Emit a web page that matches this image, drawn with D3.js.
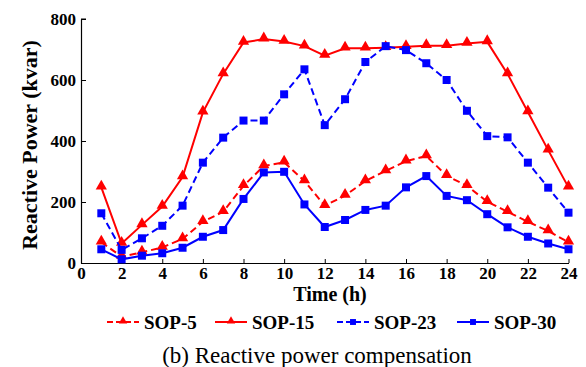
<!DOCTYPE html>
<html>
<head>
<meta charset="utf-8">
<script src="https://cdn.jsdelivr.net/npm/d3@7"></script>
<style>
  body { margin: 0; background: #fff; }
</style>
</head>
<body>
<div id="container"></div>
<script>
// 横轴: 小时
const hours = d3.range(1, 25);
const xTicks = d3.range(0, 25, 2);
const yTicks = [0, 200, 400, 600, 800];

// 各 SOP 的无功补偿 (kvar)
const sop5 = [68, 21, 35, 51, 79, 135, 168, 253, 318, 330, 269, 188, 221, 269, 302, 334, 351, 286, 253, 201, 168, 135, 105, 68];
const sop15 = [248, 64, 125, 185, 282, 494, 620, 723, 734, 726, 711, 680, 704, 704, 706, 709, 712, 712, 720, 725, 620, 495, 370, 248];
const sop23 = [163, 43, 81, 122, 188, 329, 411, 467, 467, 553, 635, 452, 537, 659, 711, 698, 655, 600, 499, 416, 412, 329, 247, 165];
const sop30 = [45, 12, 24, 32, 50, 86, 108, 210, 297, 299, 192, 118, 141, 174, 188, 248, 285, 220, 206, 160, 117, 86, 64, 45];

const seriesNames = ["SOP-5", "SOP-15", "SOP-23", "SOP-30"];

const W = 586, H = 367;
const FONT = "'Liberation Serif', 'Times New Roman', 'DejaVu Serif', serif";
const margin = { left: 81, right: 17.5, top: 19, bottom: 104 };

const series = [
    { name: seriesNames[0], values: sop5, color: "#ff0000", dash: "7,4", marker: "tri" },
    { name: seriesNames[1], values: sop15, color: "#ff0000", dash: null, marker: "tri" },
    { name: seriesNames[2], values: sop23, color: "#0000ff", dash: "7,4", marker: "sq" },
    { name: seriesNames[3], values: sop30, color: "#0000ff", dash: null, marker: "sq" }
];

const svg = d3.select("#container").append("svg")
    .attr("width", W)
    .attr("height", H)
    .attr("font-family", FONT)
    .style("display", "block");

const x = d3.scaleLinear().domain([0, 24]).range([margin.left, W - margin.right]);
const y = d3.scaleLinear().domain([0, 800]).range([H - margin.bottom, margin.top]);

// 坐标轴
const xAxis = svg.append("g")
    .attr("transform", "translate(0," + y(0) + ")")
    .call(d3.axisBottom(x).tickValues(xTicks).tickSizeInner(-4).tickSizeOuter(0).tickPadding(4));
const yAxis = svg.append("g")
    .attr("transform", "translate(" + x(0) + ",0)")
    .call(d3.axisLeft(y).tickValues(yTicks).tickSizeInner(-5).tickSizeOuter(0).tickPadding(5));

[xAxis, yAxis].forEach(g => {
    g.attr("font-family", FONT).attr("font-size", 17).attr("font-weight", "bold");
    g.select(".domain").attr("stroke", "#000").attr("stroke-width", 1.2);
    g.selectAll(".tick line").attr("stroke", "#000").attr("stroke-width", 1);
    g.selectAll(".tick text").attr("fill", "#000");
});
// y 轴顶端的小横线
svg.append("line")
    .attr("x1", x(0)).attr("x2", x(0) + 5)
    .attr("y1", y(800)).attr("y2", y(800))
    .attr("stroke", "#000");

// 标记符号
const triSym = d3.symbol().type(d3.symbolTriangle);
const sqSym = d3.symbol().type(d3.symbolSquare);

function marker(sel, type, scale) {
    sel.attr("d", type === "tri" ? triSym.size(55 * scale)() : sqSym.size(64 * scale)());
}

const line = d3.line()
    .x((d, i) => x(hours[i]))
    .y(d => y(d));

const plot = svg.append("g");
series.forEach(s => {
    plot.append("path")
        .datum(s.values)
        .attr("fill", "none")
        .attr("stroke", s.color)
        .attr("stroke-width", 2)
        .attr("stroke-dasharray", s.dash)
        .attr("d", line);
    plot.selectAll(null)
        .data(s.values)
        .enter()
        .append("path")
        .attr("transform", (d, i) => "translate(" + x(hours[i]) + "," + (y(d) + (s.marker === "tri" ? -1 : 0)) + ")")
        .attr("fill", s.color)
        .call(marker, s.marker, 1);
});

// 轴标题
svg.append("text")
    .attr("transform", "translate(37,145) rotate(-90)")
    .attr("text-anchor", "middle")
    .attr("font-weight", "bold")
    .attr("font-size", 22)
    .text("Reactive Power (kvar)");

svg.append("text")
    .attr("x", 330)
    .attr("y", 301)
    .attr("text-anchor", "middle")
    .attr("font-weight", "bold")
    .attr("font-size", 20)
    .text("Time (h)");

// 图例
const legendX = [107, 215, 337, 457];
const legend = svg.append("g");
series.forEach((s, i) => {
    const g = legend.append("g").attr("transform", "translate(" + legendX[i] + ",322)");
    g.append("line")
        .attr("x1", 0).attr("x2", 32)
        .attr("y1", 0).attr("y2", 0)
        .attr("stroke", s.color)
        .attr("stroke-width", 2)
        .attr("stroke-dasharray", s.dash ? "6,3" : null);
    g.append("path")
        .attr("transform", "translate(16," + (s.marker === "tri" ? -1 : 0) + ")")
        .attr("fill", s.color)
        .call(marker, s.marker, 0.55);
    g.append("text")
        .attr("x", 37)
        .attr("y", 7)
        .attr("font-weight", "bold")
        .attr("font-size", 19)
        .text(s.name);
});

// 图注
svg.append("text")
    .attr("x", 317)
    .attr("y", 363)
    .attr("text-anchor", "middle")
    .attr("font-size", 23)
    .text("(b) Reactive power compensation");
</script>
</body>
</html>
